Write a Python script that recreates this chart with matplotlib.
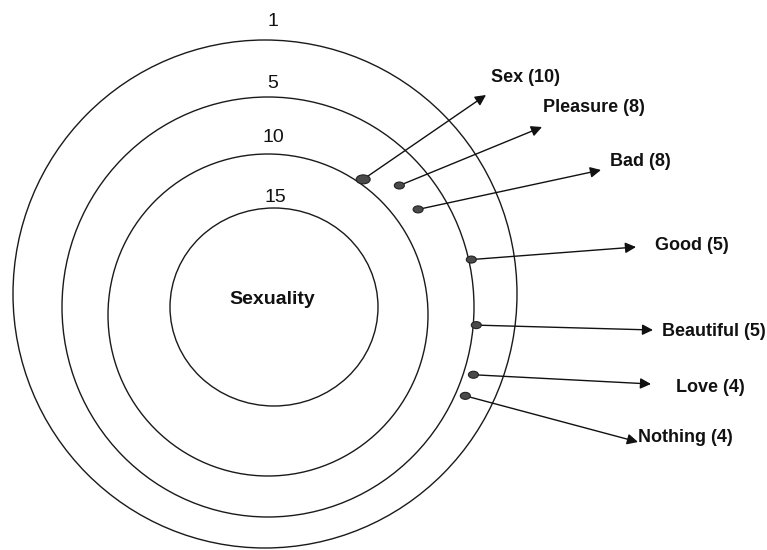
import numpy as np
import matplotlib
matplotlib.use("Agg")
import matplotlib.pyplot as plt
from matplotlib.patches import Ellipse

# ---- data ----
ring_levels = ["1", "5", "10", "15"]
ring_values = [1, 5, 10, 15]
center_label = "Sexuality"
words = ["Sex", "Pleasure", "Bad", "Good", "Beautiful", "Love", "Nothing"]
counts = [10, 8, 8, 5, 5, 4, 4]

# ---- layout (pixels, y downward) ----
ring_centers = [(265, 294), (268, 307), (268, 315), (274, 307)]
ring_rx = [252, 206, 160, 104]
ring_ry = [254, 210, 161, 99]
ring_radius_for_level = [253, 209, 160, 100]   # radius used to place dots
ring_label_pos = [(273, 21), (273, 83), (273, 137), (275, 197)]
dot_center = (268, 308)
dot_angles = [53.5, 43.0, 33.3, 13.4, -4.7, -18.0, -24.0]
dot_sizes = [(14, 9), (10, 7), (10, 7), (10, 7), (10, 7), (10, 7), (10, 7)]
arrow_tips = [(486, 95), (542, 127), (601, 170), (636, 247), (653, 330), (651, 384), (638, 442)]
label_pos = [(491, 78), (543, 108), (610, 162), (655, 245), (662, 332), (676, 387), (638, 437)]

W, H = 767, 550
fig = plt.figure(figsize=(W / 100, H / 100), dpi=100)
ax = fig.add_axes([0, 0, 1, 1])
ax.set_xlim(0, W)
ax.set_ylim(H, 0)
ax.axis("off")

FONT = "Liberation Sans"

# rings
for (cx, cy), rx, ry, lab, (lx, ly) in zip(ring_centers, ring_rx, ring_ry, ring_levels, ring_label_pos):
    ax.add_patch(Ellipse((cx, cy), 2 * rx, 2 * ry, fill=False, edgecolor="#1a1a1a", lw=1.0))
    ax.text(lx, ly, lab, ha="center", va="center", fontsize=14, family=FONT, color="#111111")

ax.text(272, 299, center_label, ha="center", va="center", fontsize=14,
        fontweight="bold", family=FONT, color="#111111")

# dot radius from count (interpolated between ring levels)
def radius_of(c):
    return float(np.interp(c, ring_values, ring_radius_for_level))

for w, c, ang, (dw, dh), tip, lp in zip(words, counts, dot_angles, dot_sizes, arrow_tips, label_pos):
    r = radius_of(c) - (4 if c == 4 else 0)
    a = np.deg2rad(ang)
    x = dot_center[0] + r * np.cos(a)
    y = dot_center[1] - r * np.sin(a)
    ax.annotate("", xy=tip, xytext=(x, y),
                arrowprops=dict(arrowstyle="-|>", color="#111111", lw=1.0,
                                mutation_scale=16, shrinkA=0, shrinkB=0))
    ax.add_patch(Ellipse((x, y), dw, dh, facecolor="#4a4a4a", edgecolor="#222222", lw=0.8, zorder=5))
    ax.text(lp[0], lp[1], f"{w} ({c})", ha="left", va="center", fontsize=13,
            fontweight="bold", family=FONT, color="#111111")

fig.savefig("out.png", dpi=100)
